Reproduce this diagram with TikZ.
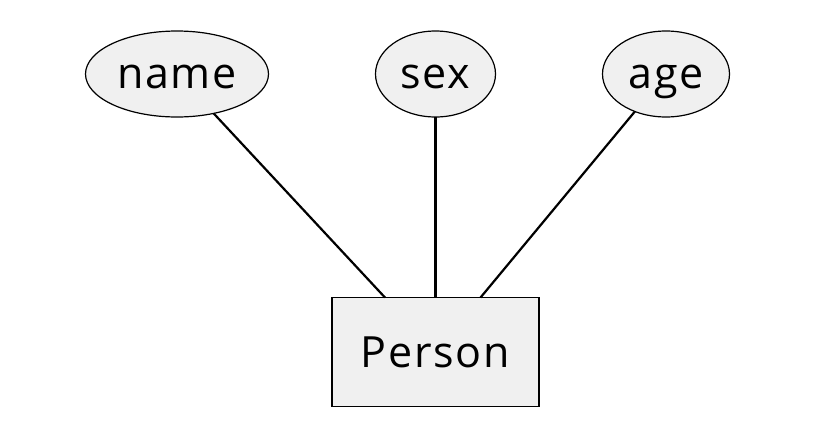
\documentclass[tikz,border=0pt]{standalone}
\usepackage{fontspec}
\setmainfont[LetterSpace=4]{Open Sans}
\usetikzlibrary{shapes.geometric}
\tikzset{
  attr/.style={ellipse,draw,fill=gray!12,line width=1.2pt,inner sep=0,outer sep=0,
    minimum height=86pt,text height=28pt,text depth=0pt},
  entity/.style={rectangle,draw,fill=gray!12,line width=1.2pt,inner sep=0,outer sep=0,
    minimum width=207pt,minimum height=109pt,text height=30pt,text depth=0pt},
  link/.style={line width=2.2pt}
}
\begin{document}
\begin{tikzpicture}[x=1pt,y=-1pt,font=\fontsize{43}{50}\selectfont]
    \useasboundingbox (0,0) rectangle (832,437);
    % Nodes: entity and its attributes
    \node[entity] (person) at (435.5,352) {Person};
    \node[attr,minimum width=183pt] (name) at (177,74) {name};
    \node[attr,minimum width=120pt] (sex) at (435.5,74) {sex};
    \node[attr,minimum width=127pt] (age) at (666,74) {age};
    % Connections
    \foreach \a in {name,sex,age} \draw[link] (\a) -- (person);
  \end{tikzpicture}
\end{document}
